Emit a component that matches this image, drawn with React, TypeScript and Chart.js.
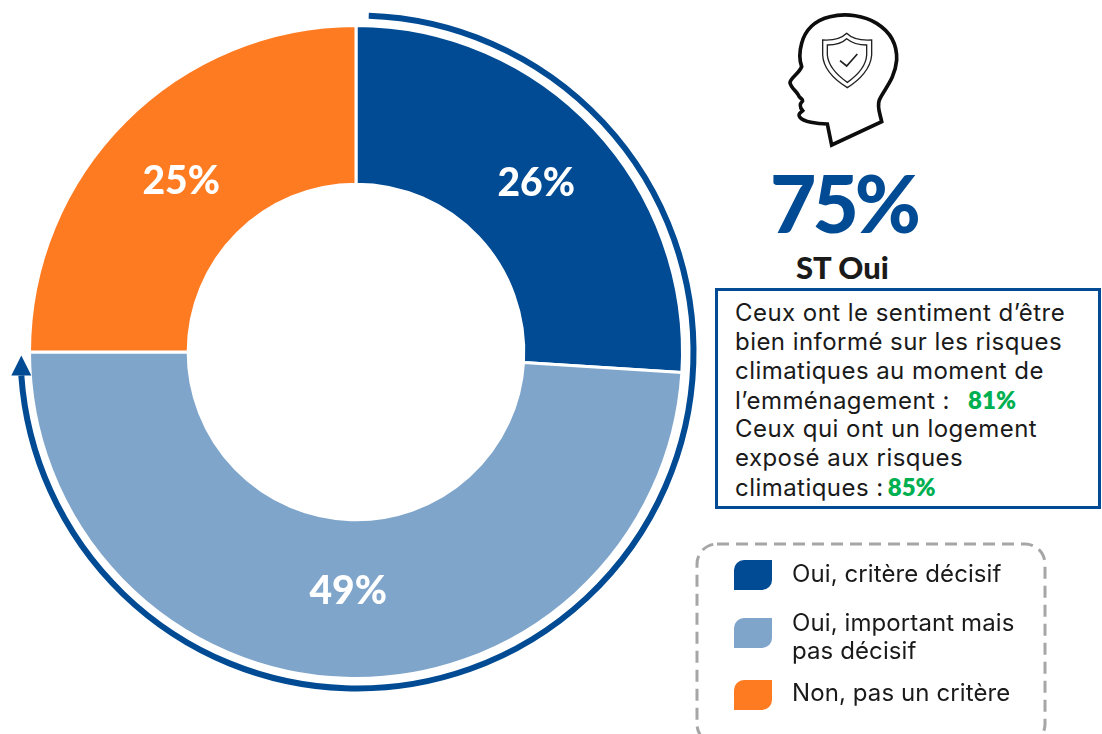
import React, { useEffect, useRef } from "react";
import { Chart, registerables } from "chart.js";

Chart.register(...registerables);

const categories = ["Oui, critère décisif", "Oui, important mais pas décisif", "Non, pas un critère"];
const legendLines = [["Oui, critère décisif"], ["Oui, important mais", "pas décisif"], ["Non, pas un critère"]];
const values = [26, 49, 25];
const colors = ["#004B93", "#7FA5CB", "#FF7B22"];
const totalLabel = "75%";
const totalCaption = "ST Oui";
const note1 = ["Ceux ont le sentiment d’être", "bien informé sur les risques", "climatiques au moment de", "l’emménagement : "];
const note1Value = "81%";
const note2 = ["Ceux qui ont un logement", "exposé aux risques", "climatiques : "];
const note2Value = "85%";
const bracketShare = 75;

const FONT = "Inter, sans-serif";
const HEAD = "Lato, sans-serif";

const labelOffsets = [1, -8, 4];

const decorPlugin = {
  id: "decor",
  afterDatasetsDraw(chart: any) {
    const ctx = chart.ctx;
    const meta = chart.getDatasetMeta(0);
    const arcs = meta.data;
    ctx.save();
    ctx.fillStyle = "#ffffff";
    ctx.font = `900 39px ${HEAD}`;
    ctx.textAlign = "center";
    ctx.textBaseline = "middle";
    arcs.forEach((a: any, i: number) => {
      const p = a.getCenterPoint();
      ctx.fillText(`${values[i]}%`, p.x, p.y + labelOffsets[i]);
    });
    const c = arcs[0];
    const cx = c.x + 1;
    const cy = c.y;
    const r = c.outerRadius + 10;
    const start = -Math.PI / 2 + (2 * Math.PI) / 180;
    const end = -Math.PI / 2 + (bracketShare / 100) * 2 * Math.PI - (4 * Math.PI) / 180;
    ctx.strokeStyle = colors[0];
    ctx.fillStyle = colors[0];
    ctx.lineWidth = 6;
    ctx.beginPath();
    ctx.arc(cx, cy, r, start, end);
    ctx.stroke();
    const ex = cx + r * Math.cos(end);
    const ey = cy + r * Math.sin(end);
    ctx.beginPath();
    ctx.moveTo(ex - 10, ey);
    ctx.lineTo(ex + 10, ey);
    ctx.lineTo(ex, ey - 20);
    ctx.closePath();
    ctx.fill();
    ctx.restore();
  },
};

const abs = (left: number, top: number, extra: React.CSSProperties = {}): React.CSSProperties => ({
  position: "absolute",
  left,
  top,
  whiteSpace: "nowrap",
  ...extra,
});

function Swatch({ top, color }: { top: number; color: string }) {
  return (
    <div
      style={abs(734, top, {
        width: 38,
        height: 30,
        background: color,
        borderRadius: "10px 0 10px 0",
      })}
    />
  );
}

export default function App() {
  const ref = useRef<HTMLCanvasElement>(null);
  useEffect(() => {
    const chart = new Chart(ref.current!, {
      type: "doughnut",
      data: {
        labels: categories,
        datasets: [{ data: values, backgroundColor: colors, borderColor: "#ffffff", borderWidth: 3 }],
      },
      options: {
        responsive: false,
        animation: false,
        cutout: "51.4%",
        layout: { padding: { left: 28, right: 28, top: 24, bottom: 24 } },
        plugins: { legend: { display: false }, tooltip: { enabled: false } },
      },
      plugins: [decorPlugin],
    } as any);
    return () => chart.destroy();
  }, []);

  const noteStyle = { fontFamily: FONT, fontSize: 24, lineHeight: "29px", color: "#1a1a1a", letterSpacing: "0.45px" };
  const legendStyle = { fontFamily: FONT, fontSize: 24, lineHeight: "28px", color: "#1a1a1a", letterSpacing: "0.1px" };
  const green: React.CSSProperties = { color: "#00B050", fontWeight: 800, fontFamily: HEAD, letterSpacing: 0 };
  const noteLines = [...note1, ...note2];
  const swatchTops = [560, 618, 680];
  const legendTops = [560, 609, 679];

  return (
    <div style={{ position: "absolute", left: 0, top: 0, width: 1102, height: 734, overflow: "hidden", background: "#fff" }}>
      <canvas ref={ref} width={712} height={704} style={{ position: "absolute", left: 0, top: 0 }} />

      <svg width={220} height={290} viewBox="0 0 660 870" style={{ position: "absolute", left: 740, top: 0 }}>
        <path
          d="M275 435 L425 365 C420 340 410 320 418 300 C430 270 465 240 470 180 C472 130 450 95 410 70 C375 48 320 38 270 50 C225 60 195 90 185 130 C178 155 178 180 185 200 C178 220 150 235 150 248 C152 262 170 275 175 285 C178 295 190 297 188 303 C178 312 178 320 188 332 C180 340 172 342 180 352 C190 365 230 372 262 372 Z"
          fill="none"
          stroke="#0d0d0d"
          strokeWidth={11}
          strokeLinejoin="miter"
        />
        <path
          d="M248 120 C280 122 305 115 320 100 C335 115 365 122 395 120 L395 165 C392 205 360 240 322 263 C285 240 250 205 248 165 Z"
          fill="none"
          stroke="#222"
          strokeWidth={4}
        />
        <path
          d="M262 135 C285 135 308 128 320 116 C335 128 358 135 380 135 L380 165 C378 198 352 226 322 247 C292 226 265 198 262 165 Z"
          fill="none"
          stroke="#222"
          strokeWidth={4}
        />
        <path d="M300 182 L320 198 L352 162" fill="none" stroke="#222" strokeWidth={5} />
      </svg>

      <div style={abs(770, 152, { fontFamily: HEAD, fontWeight: 900, fontSize: 80, lineHeight: "100px", color: colors[0], letterSpacing: "-4px" })}>
        {totalLabel}
      </div>
      <div style={abs(796, 248, { fontFamily: HEAD, fontWeight: 900, fontSize: 31, lineHeight: "38px", color: "#1a1a1a" })}>
        {totalCaption}
      </div>

      <div style={abs(715, 288, { width: 386, height: 221, boxSizing: "border-box", border: `3px solid ${colors[0]}` })} />
      {noteLines.map((line, i) => (
        <div key={i} style={abs(735, 298 + i * 29, noteStyle)}>
          {line}
          {i === 3 && <span style={{ ...green, marginLeft: 11 }}>{note1Value}</span>}
          {i === 6 && <span style={{ ...green, marginLeft: -3 }}>{note2Value}</span>}
        </div>
      ))}

      <svg width={1102} height={734} style={{ position: "absolute", left: 0, top: 0, pointerEvents: "none" }}>
        <rect x={697} y={544} width={348} height={200} rx={20} fill="none" stroke="#a6a6a6" strokeWidth={3} strokeDasharray="12 7" />
      </svg>
      {colors.map((c, i) => (
        <Swatch key={c} top={swatchTops[i]} color={c} />
      ))}
      {legendLines.map((lines, i) =>
        lines.map((l, j) => (
          <div key={l} style={abs(792, legendTops[i] + j * 28, legendStyle)}>
            {l}
          </div>
        ))
      )}
    </div>
  );
}
